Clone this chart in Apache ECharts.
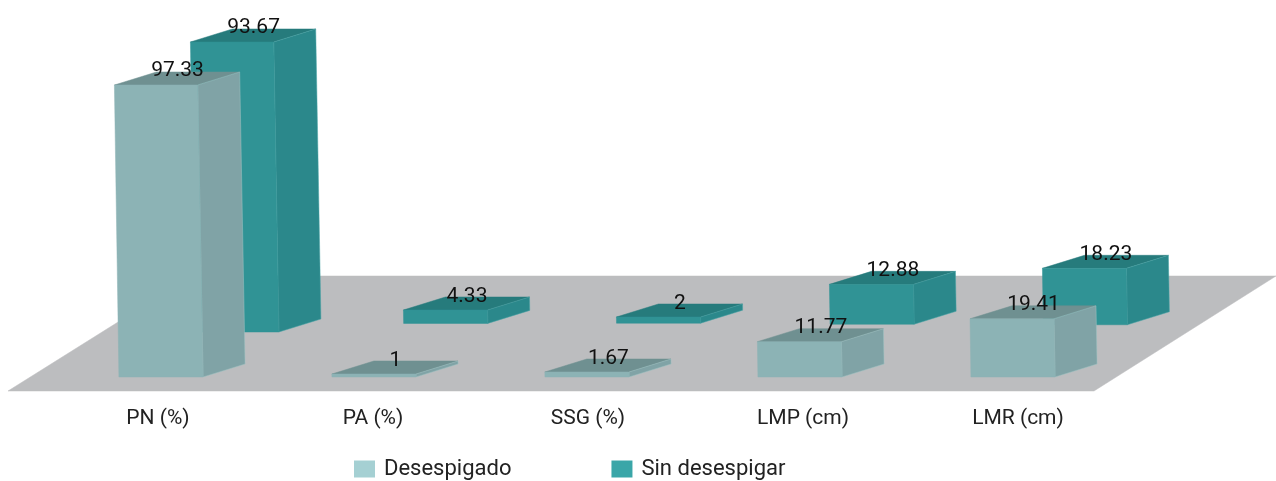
<!DOCTYPE html>
<html>
<head>
<meta charset="utf-8">
<style>html,body{margin:0;padding:0;background:#fff}#c{width:1276px;height:481px}</style>
<script src="https://cdn.jsdelivr.net/npm/echarts@6/dist/echarts.min.js"></script>
</head>
<body>
<div id="c"></div>
<script>
const categories = ['PN (%)', 'PA (%)', 'SSG (%)', 'LMP (cm)', 'LMR (cm)'];
const desespigado = [97.33, 1, 1.67, 11.77, 19.41];
const sinDesespigar = [93.67, 4.33, 2, 12.88, 18.23];

const FONT = 'Roboto';
const DEPTH = [42, -13];
const frontColors = { front: '#8cb3b5', side: '#80a3a6', top: '#6f9091', edge: '#9cc2c3' };
const backColors = { front: '#309395', side: '#2b888b', top: '#267b7c', edge: '#4aa5a7' };

function poly(points, fill, edge) {
  return { type: 'polygon', shape: { points }, style: { fill, stroke: edge || fill, lineWidth: 0.5 } };
}

function barRenderer(colors, isBack) {
  return function (params, api) {
    const i = api.value(0), v = api.value(1);
    const base = api.coord([i, 0]), tip = api.coord([i, v]);
    const w = api.size([1, 0])[0] * 0.395;
    const h = base[1] - tip[1];
    const lean = h * 0.0155;
    const left = base[0] - w / 2;
    let topL, topY, baseL, baseY;
    if (isBack) {
      topL = left + 71.5; topY = tip[1] - 54;
      baseL = topL + lean; baseY = base[1] - 54 + h * 0.032;
    } else {
      baseL = left; baseY = base[1];
      topL = left - lean; topY = tip[1];
    }
    const topR = topL + w - h * 0.003, baseR = baseL + w;
    const dx = DEPTH[0], dy = DEPTH[1];
    const children = [
      poly([[topL, topY], [topL + dx, topY + dy], [topR + dx, topY + dy], [topR, topY]], colors.top),
      poly([[topR, topY], [topR + dx, topY + dy], [baseR + dx, baseY + dy], [baseR, baseY]], colors.side, colors.edge),
      poly([[topL, topY], [topR, topY], [baseR, baseY], [baseL, baseY]], colors.front),
      {
        type: 'text', z2: 10,
        style: {
          text: String(v), x: (topL + topR + dx) / 2 + 0.5, y: topY + dy / 2 - 7 - h * 0.003,
          align: 'center', verticalAlign: 'middle', fill: '#111', font: '21px ' + FONT
        }
      }
    ];
    return { type: 'group', children };
  };
}

function floorRenderer(params) {
  const r = params.coordSys;
  const b = r.y + r.height, l = r.x, e = r.x + r.width;
  return poly([[l - 46.5, b + 14], [e - 25.5, b + 14], [e + 156.5, b - 101], [l + 137, b - 101]], '#bcbdbf');
}

const chart = echarts.init(document.getElementById('c'), null, { renderer: 'canvas' });
const toData = arr => arr.map((v, i) => [i, v]);
chart.setOption({
  animation: false,
  backgroundColor: '#fff',
  grid: [
    { left: 54.5, width: 1065, top: 17, height: 360 },
    { left: 50.5, width: 1075, top: 17, height: 374 }
  ],
  xAxis: [
    { type: 'category', data: categories, gridIndex: 0, show: false },
    {
      type: 'category', data: categories, gridIndex: 1,
      axisLine: { show: false }, axisTick: { show: false },
      axisLabel: { color: '#222', fontFamily: FONT, fontSize: 21, margin: 17, interval: 0 }
    }
  ],
  yAxis: [
    { type: 'value', min: 0, max: 120, gridIndex: 0, show: false },
    { type: 'value', min: 0, max: 120, gridIndex: 1, show: false }
  ],
  legend: {
    left: 349, top: 453, itemWidth: 21, itemHeight: 17, itemGap: 100, icon: 'rect',
    selectedMode: false,
    textStyle: { color: '#222', fontFamily: FONT, fontSize: 22, padding: [0, 0, 0, 4] },
    data: ['Desespigado', 'Sin desespigar']
  },
  series: [
    { type: 'custom', name: 'floor', coordinateSystem: 'cartesian2d', xAxisIndex: 0, yAxisIndex: 0, clip: false, silent: true, data: [[0, 0]], renderItem: floorRenderer },
    { type: 'custom', name: 'Sin desespigar', coordinateSystem: 'cartesian2d', xAxisIndex: 0, yAxisIndex: 0, clip: false, silent: true, itemStyle: { color: '#3aa6a8' }, data: toData(sinDesespigar), renderItem: barRenderer(backColors, true) },
    { type: 'custom', name: 'Desespigado', coordinateSystem: 'cartesian2d', xAxisIndex: 0, yAxisIndex: 0, clip: false, silent: true, itemStyle: { color: '#a5d0d3' }, data: toData(desespigado), renderItem: barRenderer(frontColors, false) },
    { type: 'line', xAxisIndex: 1, yAxisIndex: 1, silent: true, data: [] }
  ]
});
</script>
</body>
</html>
